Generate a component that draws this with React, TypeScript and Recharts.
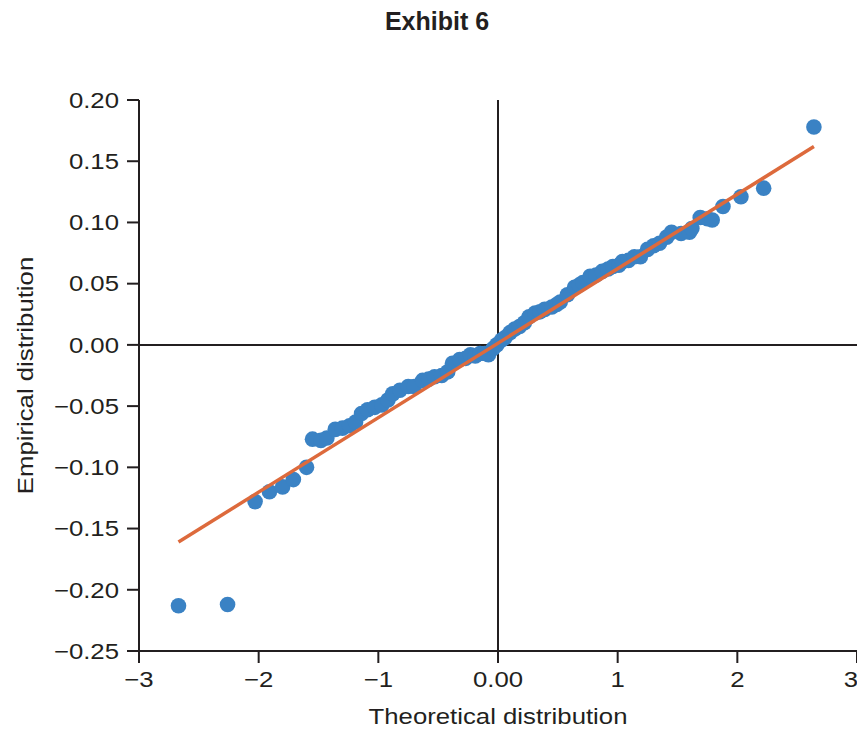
import React from "react";
import {
  ScatterChart,
  Scatter,
  XAxis,
  YAxis,
  ReferenceLine,
  Label,
} from "recharts";

// theoretical quantiles (x) and the sorted empirical returns (y)
const theoretical = [
  -2.67, -2.26, -2.03, -1.91, -1.8, -1.71, -1.6, -1.55, -1.48, -1.43, -1.36,
  -1.3, -1.24, -1.19, -1.14, -1.09, -1.03, -0.97, -0.92, -0.88, -0.82, -0.75,
  -0.7, -0.63, -0.58, -0.53, -0.47, -0.42, -0.38, -0.32, -0.27, -0.23, -0.19,
  -0.15, -0.11, -0.08, -0.04, -0.01, 0.03, 0.06, 0.1, 0.14, 0.18, 0.22, 0.26,
  0.31, 0.35, 0.39, 0.45, 0.49, 0.52, 0.58, 0.64, 0.68, 0.71, 0.77, 0.82, 0.87,
  0.92, 0.96, 1.01, 1.04, 1.09, 1.14, 1.19, 1.25, 1.3, 1.35, 1.41, 1.45, 1.53,
  1.6, 1.62, 1.69, 1.75, 1.79, 1.88, 2.03, 2.22, 2.64,
];

const empirical = [
  -0.213, -0.212, -0.128, -0.12, -0.116, -0.11, -0.1, -0.077, -0.078, -0.076,
  -0.069, -0.068, -0.066, -0.063, -0.056, -0.053, -0.051, -0.049, -0.045,
  -0.04, -0.037, -0.034, -0.034, -0.029, -0.028, -0.026, -0.025, -0.022,
  -0.015, -0.012, -0.011, -0.008, -0.009, -0.007, -0.007, -0.008, -0.003, 0.0,
  0.004, 0.006, 0.01, 0.013, 0.015, 0.018, 0.023, 0.026, 0.027, 0.029, 0.031,
  0.033, 0.035, 0.041, 0.047, 0.049, 0.051, 0.056, 0.057, 0.06, 0.062, 0.064,
  0.065, 0.068, 0.069, 0.072, 0.072, 0.078, 0.081, 0.083, 0.088, 0.092, 0.091,
  0.092, 0.095, 0.104, 0.103, 0.102, 0.113, 0.121, 0.128, 0.178,
];

// fitted reference line end points
const fitX = [-2.67, 2.64];
const fitY = [-0.161, 0.162];

const xTicks = [-3, -2, -1, 0, 1, 2, 3];
const yTicks = [-0.25, -0.2, -0.15, -0.1, -0.05, 0, 0.05, 0.1, 0.15, 0.2];

const points = theoretical.map((x, i) => ({ x, y: empirical[i] }));
const fitLine = fitX.map((x, i) => ({ x, y: fitY[i] }));

const FONT = "'Liberation Sans', Arial, sans-serif";
const INK = "#231f20";
const STRETCH = 1.17; // the source font is wider than Arial

const fmtY = (v: number) => {
  const s = Math.abs(v).toFixed(2);
  return v < 0 ? "\u2212" + s : s;
};
const fmtX = (v: number) => {
  if (v === 0) return "0.00";
  return v < 0 ? "\u2212" + Math.abs(v) : String(v);
};

const Dot = (props: any) => (
  <circle cx={props.cx} cy={props.cy} r={7.8} fill="#3a82c4" />
);

const WideText = ({ x, y, anchor, dy, rotate, children }: any) => (
  <g transform={`translate(${x},${y})${rotate ? ` rotate(${rotate})` : ""}`}>
    <text
      transform={`scale(${STRETCH},1)`}
      textAnchor={anchor}
      dy={dy}
      fill={INK}
      fontSize={22}
      fontFamily={FONT}
    >
      {children}
    </text>
  </g>
);

const XTick = (p: any) => {
  const last = p.payload.value === xTicks[xTicks.length - 1];
  // keep the last label inside the page edge
  return (
    <WideText x={last ? p.x - 6 : p.x} y={p.y} anchor="middle" dy="0.71em">
      {fmtX(p.payload.value)}
    </WideText>
  );
};

const YTick = (p: any) => (
  <WideText x={p.x} y={p.y} anchor="end" dy="0.355em">
    {fmtY(p.payload.value)}
  </WideText>
);

export default function App() {
  return (
    <div style={{ position: "relative", width: 857, height: 722, fontFamily: FONT }}>
      <div
        style={{
          position: "absolute",
          top: 0,
          left: 329,
          width: 200,
          textAlign: "center",
          fontWeight: "bold",
          fontSize: 25,
          color: INK,
          lineHeight: "26px",
        }}
      >
        Exhibit 6
      </div>
      <ScatterChart
        width={857}
        height={722}
        margin={{ top: 92, right: 8, bottom: 0, left: 0 }}
      >
        <XAxis
          type="number"
          dataKey="x"
          domain={[-3, 3]}
          ticks={xTicks}
          height={79}
          tickSize={12}
          tickMargin={8}
          axisLine={{ stroke: INK, strokeWidth: 2 }}
          tickLine={{ stroke: INK, strokeWidth: 2 }}
          tick={<XTick />}
          allowDataOverflow
        >
          <Label
            content={(p: any) => {
              const vb = p.viewBox;
              return (
                <WideText x={vb.x + vb.width / 2} y={vb.y + vb.height - 6} anchor="middle">
                  Theoretical distribution
                </WideText>
              );
            }}
          />
        </XAxis>
        <YAxis
          type="number"
          dataKey="y"
          domain={[-0.25, 0.2]}
          ticks={yTicks}
          width={131}
          tickSize={12}
          tickMargin={8}
          axisLine={{ stroke: INK, strokeWidth: 2 }}
          tickLine={{ stroke: INK, strokeWidth: 2 }}
          tick={<YTick />}
          allowDataOverflow
        >
          <Label
            content={(p: any) => {
              const vb = p.viewBox;
              return (
                <WideText
                  x={vb.x + 17}
                  y={vb.y + vb.height / 2}
                  anchor="middle"
                  dy="0.35em"
                  rotate={-90}
                >
                  Empirical distribution
                </WideText>
              );
            }}
          />
        </YAxis>
        <ReferenceLine x={0} stroke={INK} strokeWidth={2} />
        <ReferenceLine y={0} stroke={INK} strokeWidth={2} />
        <Scatter data={points} shape={Dot} isAnimationActive={false} />
        <Scatter
          data={fitLine}
          line={{ stroke: "#dd6a3c", strokeWidth: 3.5 }}
          shape={() => <g />}
          isAnimationActive={false}
        />
      </ScatterChart>
    </div>
  );
}
